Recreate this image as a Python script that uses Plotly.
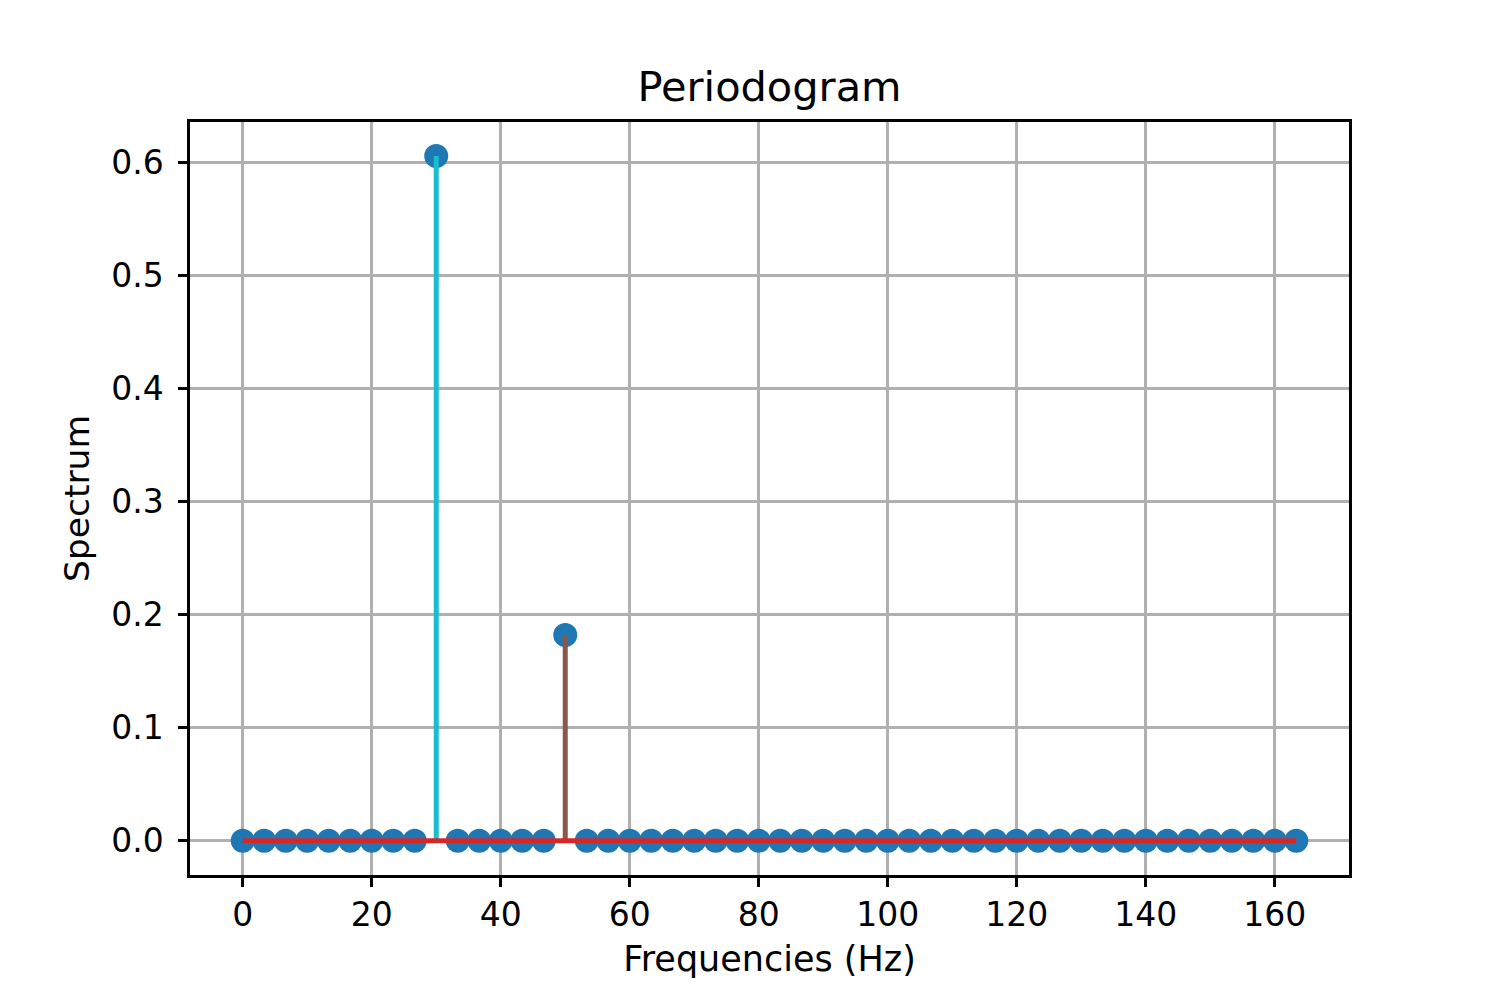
import plotly.graph_objects as go

# stem plot data
freqs = [0.0, 3.33, 6.67, 10.0, 13.33, 16.67, 20.0, 23.33, 26.67, 30.0,
         33.33, 36.67, 40.0, 43.33, 46.67, 50.0, 53.33, 56.67, 60.0, 63.33,
         66.67, 70.0, 73.33, 76.67, 80.0, 83.33, 86.67, 90.0, 93.33, 96.67,
         100.0, 103.33, 106.67, 110.0, 113.33, 116.67, 120.0, 123.33, 126.67, 130.0,
         133.33, 136.67, 140.0, 143.33, 146.67, 150.0, 153.33, 156.67, 160.0, 163.33]
spectrum = [0.0] * 50
spectrum[9] = 0.606
spectrum[15] = 0.182

x_ticks = [0, 20, 40, 60, 80, 100, 120, 140, 160]
y_ticks = [0.0, 0.1, 0.2, 0.3, 0.4, 0.5, 0.6]
y_tick_labels = ["0.0", "0.1", "0.2", "0.3", "0.4", "0.5", "0.6"]

# matplotlib default cycle, stems pick colours from it in order
tab10 = ["#1f77b4", "#ff7f0e", "#2ca02c", "#d62728", "#9467bd",
         "#8c564b", "#e377c2", "#7f7f7f", "#bcbd22", "#17becf"]

fig = go.Figure()

# markers first, stems and baseline go on top
fig.add_trace(go.Scatter(x=freqs, y=spectrum, mode="markers",
                         marker=dict(size=24, color="#1f77b4"),
                         showlegend=False, hoverinfo="x+y"))

for i, (f, s) in enumerate(zip(freqs, spectrum)):
    fig.add_trace(go.Scatter(x=[f, f], y=[0, s], mode="lines",
                             line=dict(color=tab10[i % 10], width=5),
                             showlegend=False, hoverinfo="skip"))

# baseline
fig.add_trace(go.Scatter(x=[freqs[0], freqs[-1]], y=[0, 0], mode="lines",
                         line=dict(color="#d62728", width=5),
                         showlegend=False, hoverinfo="skip"))

axis_style = dict(showline=True, linecolor="black", linewidth=2.5, mirror=True,
                  showgrid=True, gridcolor="#b0b0b0", gridwidth=2.5,
                  ticks="outside", ticklen=9, tickwidth=2.5, tickcolor="black",
                  zeroline=False, tickfont=dict(size=33, color="black"))

fig.update_layout(
    width=1500, height=1000,
    margin=dict(l=182, r=159, t=114, b=133),
    paper_bgcolor="white", plot_bgcolor="white",
    font=dict(family="DejaVu Sans", color="black"),
    title=dict(text="Periodogram", x=0.5, xref="paper", xanchor="center",
               y=0.922, yref="container", yanchor="middle",
               font=dict(size=41.5, color="black")),
    xaxis=dict(range=[-8.17, 171.5], tickvals=x_ticks,
               title=dict(text="Frequencies (Hz)", font=dict(size=35), standoff=14),
               ticklabelstandoff=0, **axis_style),
    yaxis=dict(range=[-0.0303, 0.636], tickvals=y_ticks, ticktext=y_tick_labels,
               title=dict(text="Spectrum", font=dict(size=34.5), standoff=12),
               ticklabelstandoff=8, **axis_style),
)

fig.write_html("out.html")
